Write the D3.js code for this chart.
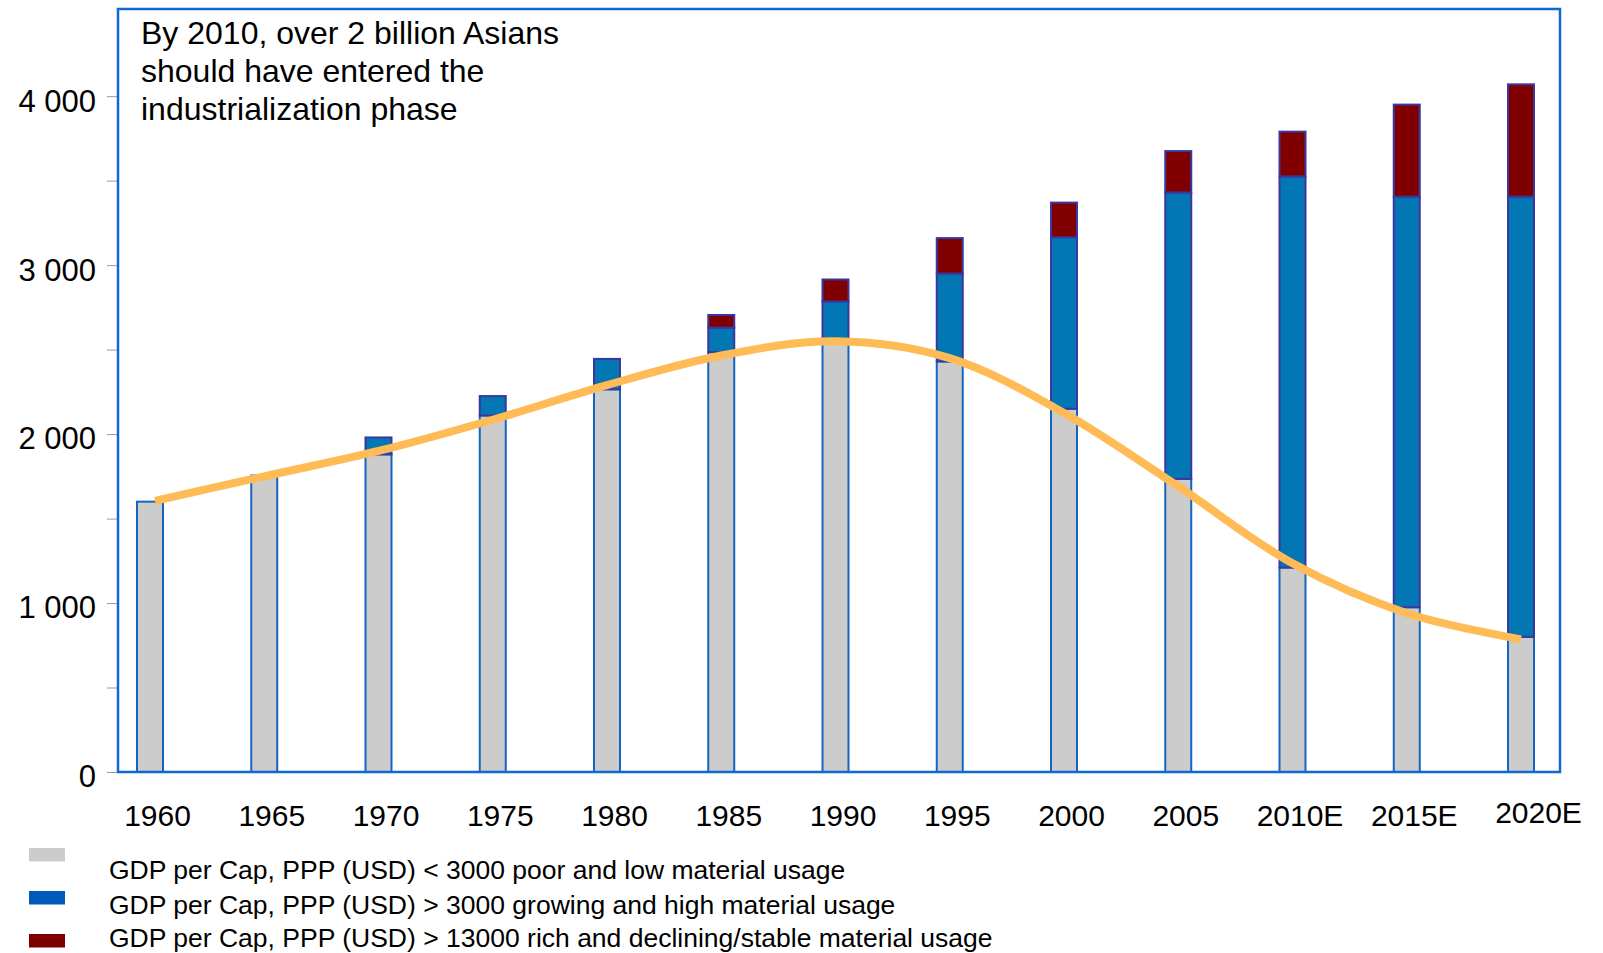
<!DOCTYPE html>
<html>
<head>
<meta charset="utf-8">
<script src="https://cdnjs.cloudflare.com/ajax/libs/d3/7.8.5/d3.min.js"></script>
<style>
  body { margin: 0; background: #fff; }
  svg { display: block; font-family: "Liberation Sans", Arial, sans-serif; }
</style>
</head>
<body>
<svg id="chart" width="1603" height="953"></svg>
<script>
// categories and values
const years = ["1960", "1965", "1970", "1975", "1980", "1985", "1990", "1995", "2000", "2005", "2010E", "2015E", "2020E"];
const poorLow = [1600, 1755, 1880, 2110, 2265, 2485, 2560, 2430, 2150, 1735, 1210, 975, 800];
const growingHigh = [0, 0, 100, 115, 180, 145, 225, 520, 1015, 1695, 2315, 2430, 2605];
const richStable = [0, 0, 0, 0, 0, 75, 130, 210, 205, 245, 265, 545, 665];
const trendLine = [1605, 1750, 1900, 2085, 2290, 2465, 2550, 2450, 2125, 1690, 1235, 940, 785];
const yTicks = [0, 500, 1000, 1500, 2000, 2500, 3000, 3500, 4000];
const legendLabels = [
  "GDP per Cap, PPP (USD) < 3000 poor and low material usage",
  "GDP per Cap, PPP (USD) > 3000 growing and high material usage",
  "GDP per Cap, PPP (USD) > 13000 rich and declining/stable material usage"
];
const noteLines = ["By 2010, over 2 billion Asians", "should have entered the", "industrialization phase"];

const svg = d3.select("#chart");
const plotLeft = 118, plotRight = 1560, plotTop = 9, plotBottom = 772;

const x = d3.scalePoint().domain(years).range([150, 1521]);
const y = d3.scaleLinear().domain([0, 4510]).range([plotBottom, 10]);
const barW = 26;

const rows = years.map((yr, i) => ({ year: yr, poor: poorLow[i], growing: growingHigh[i], rich: richStable[i] }));
const keys = ["poor", "growing", "rich"];
const fills = { poor: "#cccccc", growing: "#0277b3", rich: "#800000" };
const strokes = { poor: "#1565c0", growing: "#3a37a0", rich: "#3a37a0" };
const stacked = d3.stack().keys(keys)(rows);

// y axis ticks and labels
const yAxis = d3.axisLeft(y)
  .tickValues(yTicks)
  .tickSize(11)
  .tickPadding(11)
  .tickFormat(d => d % 1000 === 0 ? (d === 0 ? "0" : d3.format(",")(d).replace(",", " ")) : "");
const gy = svg.append("g").attr("transform", `translate(${plotLeft},0)`).call(yAxis);
gy.select(".domain").remove();
gy.selectAll(".tick line").attr("stroke", "#9a9a9a").attr("stroke-width", 1);
gy.selectAll(".tick text")
  .attr("font-size", 31)
  .attr("fill", "#000")
  .attr("dy", "0.48em");

// bars
svg.append("g").selectAll("g")
  .data(stacked)
  .join("g")
  .attr("fill", d => fills[d.key])
  .attr("stroke", d => strokes[d.key])
  .attr("stroke-width", 2)
  .selectAll("rect")
  .data(d => d.filter(s => s[1] - s[0] > 0))
  .join("rect")
  .attr("x", d => x(d.data.year) - barW / 2)
  .attr("y", d => y(d[1]))
  .attr("width", barW)
  .attr("height", d => y(d[0]) - y(d[1]));

// frame
svg.append("rect")
  .attr("x", plotLeft).attr("y", plotTop)
  .attr("width", plotRight - plotLeft).attr("height", plotBottom - plotTop)
  .attr("fill", "none")
  .attr("stroke", "#1168d0")
  .attr("stroke-width", 2.5);

// trend curve
const line = d3.line()
  .x((d, i) => x(years[i]) + (i === 0 ? 5 : 0))
  .y(d => y(d))
  .curve(d3.curveCatmullRom.alpha(0.5));
svg.append("path")
  .datum(trendLine)
  .attr("d", line)
  .attr("fill", "none")
  .attr("stroke", "#ffbb55")
  .attr("stroke-width", 8);

// x labels
const xAxis = d3.axisBottom(x).tickSize(0).tickPadding(0);
const gx = svg.append("g").attr("transform", `translate(7,${plotBottom + 54})`).call(xAxis);
gx.select(".domain").remove();
gx.selectAll(".tick text")
  .attr("font-size", 30)
  .attr("fill", "#000")
  .attr("dy", 0);
gx.selectAll(".tick").filter(d => d === "2020E")
  .select("text").attr("dx", 10).attr("dy", -3);

// note
svg.append("text")
  .attr("x", 141)
  .attr("y", 44)
  .attr("font-size", 32)
  .attr("fill", "#000")
  .selectAll("tspan")
  .data(noteLines)
  .join("tspan")
  .attr("x", 141)
  .attr("dy", (d, i) => i === 0 ? 0 : 37.8)
  .text(d => d);

// legend
const legendColors = ["#cccccc", "#0059b8", "#800000"];
const lg = svg.append("g").selectAll("g")
  .data(legendLabels)
  .join("g")
  .attr("transform", (d, i) => `translate(0,${i * 43})`);
lg.append("rect")
  .attr("x", 29).attr("y", 848)
  .attr("width", 36).attr("height", 13.5)
  .attr("fill", (d, i) => legendColors[i]);
lg.append("text")
  .attr("x", 109)
  .attr("y", (d, i) => 879 - i * 8 - (i === 2 ? 2 : 0))
  .attr("font-size", 26.5)
  .attr("fill", "#000")
  .text(d => d);
</script>
</body>
</html>
